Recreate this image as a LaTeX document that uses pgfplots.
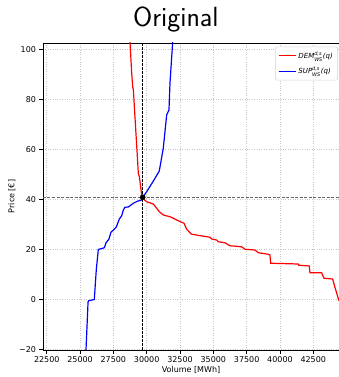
\documentclass[border=0pt]{standalone}
\usepackage{amsmath}
\usepackage{fontspec}
\setmainfont{DejaVu Sans}
\usepackage{pgfplots}
\pgfplotsset{compat=1.18}
\begin{document}
\begin{tikzpicture}
\begin{axis}[
  name=ax,
  scale only axis,
  width=296pt, height=307pt,
  xmin=22220, xmax=44430,
  ymin=-20.2, ymax=102.6,
  scaled x ticks=false, scaled y ticks=false,
  xtick={22500,25000,27500,30000,32500,35000,37500,40000,42500},
  xticklabels={22500,25000,27500,30000,32500,35000,37500,40000,42500},
  ytick={-20,0,20,40,60,80,100},
  yticklabels={−20,0,20,40,60,80,100},
  tick label style={font=\fontsize{8}{9.6}\selectfont},
  tick align=outside,
  major tick length=3.5pt,
  tick style={black, line width=0.7pt},
  xtick pos=bottom, ytick pos=left,
  axis line style={line width=0.9pt},
  grid=major,
  major grid style={gray!45, dotted, line width=0.7pt},
  xlabel={Volume [MWh]},
  ylabel={Price [€]},
  label style={font=\fontsize{8}{9.6}\selectfont},
  xlabel style={at={(axis description cs:0.5,-0.065)}, anchor=center},
  ylabel style={at={(axis description cs:-0.105,0.5)}, anchor=center},
  title={Original},
  title style={at={(axis description cs:0.449,1)}, anchor=center, yshift=18pt, font=\sffamily\fontsize{27.7}{30}\selectfont},
  legend style={at={(0.996,0.988)}, anchor=north east, draw=gray!35, rounded corners=2pt, font=\fontsize{7}{8.5}\selectfont, row sep=3pt, inner sep=2.8pt},
  legend cell align=left,
  clip=true,
]
\addplot[red, line width=1.2pt] coordinates {
(28700,110) (28748,103) (28875,90.5) (28950,85.1) (29000,83.8) (29300,57.1)
(29370,50.5) (29450,49.1) (29625,41.8) (29700,40.9) (29875,39.6) (30000,39.1)
(30500,38.2) (30950,35.1) (31250,33.8) (31750,33.1) (32000,32.5) (32250,31.8)
(32625,30.9) (32800,30.5) (33000,28.1) (33250,26.7) (33375,26.1) (34750,24.9)
(34875,24.2) (35250,23.8) (35375,23.1) (35875,22.7) (36250,21.5) (37125,21.1)
(37375,20.1) (38125,19.8) (38375,18.7) (39125,18.1) (39250,17.8) (39300,14.5)
(41375,14.2) (41420,13.7) (42200,13.4) (42250,10.7) (43125,10.7) (43300,8.5)
(43950,8.2) (44125,4.9) (44370,0.5) (44430,-0.5)
};
\addlegendentry{\textit{DEM}$^{\textit{d,s}}_{\textit{WS}}$\textit{(q)}}
\addplot[blue, line width=1.2pt] coordinates {
(25440,-21) (25448,-20) (25600,-1) (25650,-0.5) (26070,0) (26220,12)
(26370,20) (26820,20.7) (26950,22.7) (27170,24.2) (27320,26.9) (27550,28)
(27720,29) (27950,32.2) (28125,33.5) (28250,35.8) (28370,36.9) (28620,37)
(29000,38.5) (29300,39.3) (29625,39.8) (29700,40.9) (30000,43.1) (30548,47.8)
(30945,51.4) (31245,60.5) (31500,73.8) (31673,75.8) (31748,86.5) (31950,103) (31980,110)
};
\addlegendentry{\textit{SUP}$^{\textit{d,s}}_{\textit{WS}}$\textit{(q)}}
\addplot[black!60, line width=1.2pt, dash pattern=on 3pt off 1.5pt, forget plot] coordinates {(22220,40.9) (44430,40.9)};
\addplot[black, line width=0.8pt, dash pattern=on 2.5pt off 1.5pt, forget plot] coordinates {(29700,-20.2) (29700,102.6)};
\addplot[only marks, mark=*, mark size=2.6pt, black, forget plot] coordinates {(29700,40.9)};
\end{axis}
\pgfresetboundingbox
\path[use as bounding box] ([xshift=-43pt,yshift=-27pt]ax.south west) rectangle ([yshift=43pt]ax.north east);
\end{tikzpicture}
\end{document}
